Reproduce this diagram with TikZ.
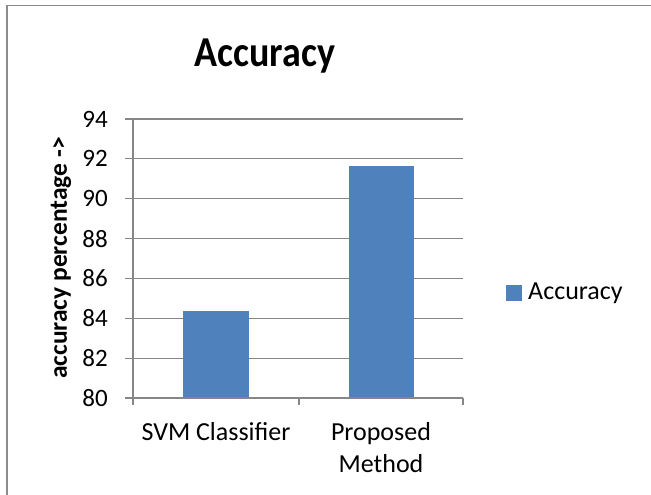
\documentclass[tikz,border=0pt]{standalone}
\usepackage{fontspec}
\setmainfont{Carlito}
\definecolor{barblue}{HTML}{4F81BD}
\definecolor{gridgray}{HTML}{868686}
\definecolor{framegray}{HTML}{8C8C8C}
\begin{document}
\begin{tikzpicture}[x=1pt,y=-1pt,
  gridline/.style={draw=gridgray,line width=1.2pt},
  bar/.style={fill=barblue,draw=none},
  ticklabel/.style={anchor=east,inner sep=0pt,font=\fontsize{25}{28}\selectfont},
  catlabel/.style={anchor=base,inner sep=0pt,font=\fontsize{26}{30}\selectfont}]
\useasboundingbox (0,0) rectangle (651,495);
% chart area frame (only top and left edges fall inside the page)
\begin{scope}
\clip (0,0) rectangle (651,495);
\draw[framegray,line width=1.5pt] (7,505) -- (7,5.5) -- (660,5.5);
\end{scope}
% title
\node[inner sep=0pt,font=\bfseries\fontsize{38}{44}\selectfont] (title) at (265,56) {\scalebox{1}[1.12]{Accuracy}};
% horizontal gridlines and y ticks
\foreach \v in {80,82,...,94}{
  \pgfmathsetmacro{\yy}{398-(\v-80)*19.93}
  \draw[gridline] (125,\yy) -- (463,\yy);
  \node[ticklabel] (t\v) at (108,\yy) {\v};
}
% bars
\pgfmathsetmacro{\ya}{398-(84.37-80)*19.93}
\pgfmathsetmacro{\yb}{398-(91.63-80)*19.93}
\path[bar] (183,398) rectangle (249,\ya);
\path[bar] (349,398) rectangle (414,\yb);
% axes
\draw[gridline] (133,119) -- (133,405);
\draw[gridline] (125,398) -- (463,398);
\foreach \x in {133,299,463}{\draw[gridline] (\x,398) -- (\x,405);}
% category labels
\node[catlabel] (c1) at (216,440) {SVM Classifier};
\node[catlabel] (c2) at (381,440) {Proposed};
\node[catlabel] (c3) at (381,472) {Method};
% axis title
\node[rotate=90,inner sep=0pt,font=\bfseries\fontsize{25.5}{30}\selectfont] (ylab) at (61,258) {accuracy percentage ->};
% legend
\path[bar] (506,285) rectangle (522,301);
\node[anchor=west,inner sep=0pt,font=\fontsize{26}{30}\selectfont] (leg) at (528,293) {Accuracy};
\end{tikzpicture}
\end{document}
